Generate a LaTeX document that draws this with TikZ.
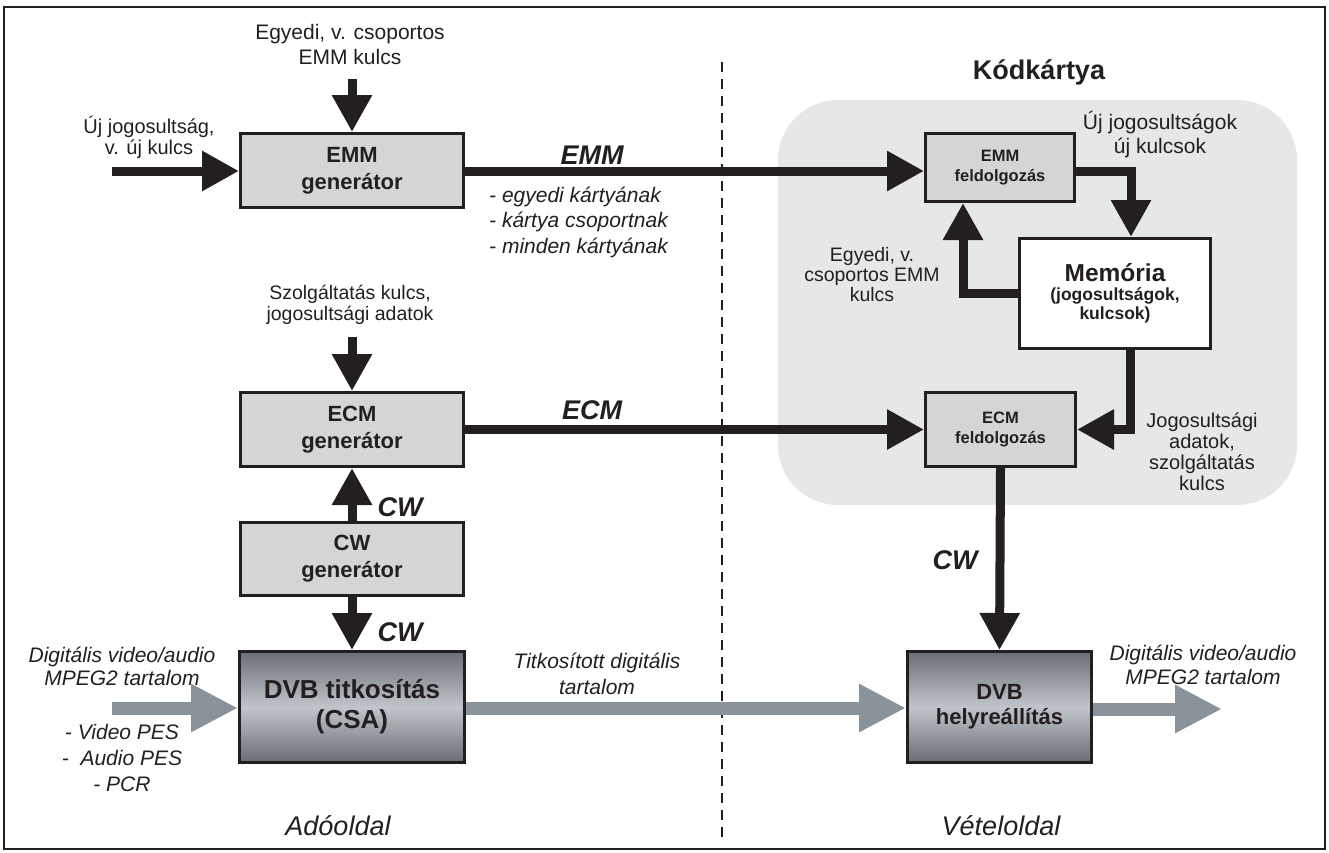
\documentclass[tikz,border=0pt]{standalone}
\usepackage{fontspec}
\setmainfont{Liberation Sans}
\usepackage{tikz}
\usetikzlibrary{arrows.meta,positioning,calc}
\definecolor{ink}{HTML}{231F20}
\definecolor{boxgrey}{HTML}{D4D5D6}
\definecolor{cardgrey}{HTML}{E6E7E8}
\definecolor{flowgrey}{HTML}{8A9399}
\definecolor{dvbdark}{HTML}{686E73}
\definecolor{dvblight}{HTML}{C0C5CB}
\tikzset{
  >=Triangle,
  keyarr/.style={-{Triangle[length=37pt,width=38pt]},draw=ink,line width=9pt,line join=miter},
  flowarr/.style={-{Triangle[length=47pt,width=45pt]},draw=flowgrey,line width=13pt},
}
\newcommand{\pxfont}[2]{\fontsize{#1}{#2}\selectfont}

\begin{document}
\begin{tikzpicture}[x=1pt,y=-1pt,
  gbox/.style={draw=ink,line width=3pt,fill=boxgrey,align=center,inner sep=0pt,
    text=ink,font=\pxfont{22}{27}\bfseries},
  dvbbox/.style={gbox,top color=dvbdark,bottom color=dvbdark,middle color=dvblight},
  lab/.style={align=center,inner sep=0pt,text=ink,font=\pxfont{21}{24}},
  ilab/.style={lab,font=\pxfont{21}{24}\itshape},
  sig/.style={inner sep=0pt,text=ink,font=\pxfont{27}{30}\bfseries\itshape},
]
  \useasboundingbox (0,0) rectangle (1329,852);

  % Kodkartya background
  \node[fill=cardgrey,rounded corners=60pt,minimum width=519pt,minimum height=405pt,
    inner sep=0pt] (card) at (1037.5,302.5) {};
  \node[inner sep=0pt,text=ink,font=\pxfont{27}{30}\bfseries] (cardtitle) at (1039,72) {Kódkártya};

  % sides
  \coordinate (divtop) at (722,62);
  \coordinate (divbot) at (722,843);
  \draw[ink,line width=1.5pt,dash pattern=on 10pt off 7pt] (divtop) -- (divbot);

  % sender
  \node[gbox,minimum width=223pt,minimum height=74pt] (emmgen) at (352,170.5) {EMM\\generátor};
  \node[gbox,minimum width=223pt,minimum height=74pt] (ecmgen) at (352,429.5) {ECM\\generátor};
  \node[gbox,minimum width=223pt,minimum height=73pt] (cwgen) at (352,559) {CW\\generátor};
  \node[dvbbox,minimum width=225pt,minimum height=111pt,font=\pxfont{26}{30}\bfseries]
    (dvbenc) at (352,707) {DVB titkosítás\\(CSA)};

  % receiver
  \node[gbox,minimum width=149pt,minimum height=68pt,font=\pxfont{16.5}{19.5}\bfseries]
    (emmproc) at (1000,167.5) {EMM\\feldolgozás};
  \node[gbox,fill=white,minimum width=191pt,minimum height=110pt,font=\pxfont{17.5}{19}\bfseries]
    (mem) at (1115,293.5) {{\pxfont{24.5}{28}Memória}\\(jogosultságok,\\kulcsok)};
  \node[gbox,minimum width=150pt,minimum height=74pt,font=\pxfont{16.5}{19.5}\bfseries]
    (ecmproc) at (1000.5,429.5) {ECM\\feldolgozás};
  \node[dvbbox,minimum width=184pt,minimum height=111pt,font=\pxfont{22}{25}\bfseries]
    (dvbdec) at (999.5,707) {DVB\\helyreállítás};

  % labels
  \node[lab,font=\pxfont{21}{25}] (emmkeytxt) at (350,44) {Egyedi, v. csoportos\\EMM kulcs};
  \node[lab,font=\pxfont{20}{21}] (newright) at (149,137) {Új jogosultság,\\v. új kulcs};
  \node[sig] (emmsig) at (592,155) {EMM};
  \node[ilab,align=left,anchor=west,font=\pxfont{21}{25.5}\itshape] (emmlist) at (489,222)
    {- egyedi kártyának\\- kártya csoportnak\\- minden kártyának};
  \node[lab,font=\pxfont{19.5}{21}] (ecmkeytxt) at (350,304.5) {Szolgáltatás kulcs,\\jogosultsági adatok};
  \node[sig] (ecmsig) at (592,410) {ECM};
  \node[sig] (cwsig1) at (400,507) {CW};
  \node[sig] (cwsig2) at (400,632) {CW};
  \node[ilab,font=\pxfont{21}{23.5}\itshape] (srcin) at (122,666.5) {Digitális video/audio\\MPEG2 tartalom};
  \node[ilab,font=\pxfont{21}{26}\itshape] (pes) at (122,758) {- Video PES\\-\ \ Audio PES\\- PCR};
  \node[ilab,font=\pxfont{21}{26}\itshape] (enctxt) at (597,673.5) {Titkosított digitális\\tartalom};
  \node[lab,font=\pxfont{21}{24}] (newkeys) at (1160,135) {Új jogosultságok\\új kulcsok};
  \node[lab,font=\pxfont{19.5}{20}] (emmkeyback) at (872,275) {Egyedi, v.\\csoportos EMM\\kulcs};
  \node[lab,font=\pxfont{20}{21}] (ecmdata) at (1202,451.5) {Jogosultsági\\adatok,\\szolgáltatás\\kulcs};
  \node[sig] (cwsig3) at (955,560) {CW};
  \node[ilab] (dstout) at (1203,665) {Digitális video/audio\\MPEG2 tartalom};
  \node[ilab,font=\pxfont{27}{30}\itshape] (txside) at (338,826) {Adóoldal};
  \node[ilab,font=\pxfont{27}{30}\itshape] (rxside) at (1001,826) {Vételoldal};

  % free ends
  \coordinate (emmkey) at (352,79);
  \coordinate (newin) at (112,171);
  \coordinate (ecmkey) at (352,337);
  \coordinate (srcstart) at (112,708);
  \coordinate (dstend) at (1222,709);

  % key paths
  \draw[keyarr] (emmkey) -- (emmgen.north);
  \draw[keyarr] (newin) -- (newin -| emmgen.west);
  \draw[keyarr] (emmgen.east |- newin) -- (newin -| emmproc.west);
  \draw[keyarr] (emmproc.east |- newin) -| ([xshift=16pt]mem.north);
  \draw[keyarr] (mem.west) -| ([xshift=-37pt]emmproc.south);
  \draw[keyarr] ([xshift=15pt]mem.south) |- (ecmproc.east);
  \draw[keyarr] (ecmkey) -- (ecmgen.north);
  \draw[keyarr] (ecmgen.east) -- (ecmproc.west);
  \draw[keyarr] (cwgen.north) -- (ecmgen.south);
  \draw[keyarr] (cwgen.south) -- (dvbenc.north);
  \draw[keyarr] (ecmproc.south) -- (dvbdec.north);

  % content flow
  \draw[flowarr] (srcstart) -- (srcstart -| dvbenc.west);
  \draw[flowarr] (dvbenc.east |- srcstart) -- (srcstart -| dvbdec.west);
  \draw[flowarr] (dvbdec.east |- dstend) -- (dstend);

  % frame
  \draw[ink,line width=1.2pt] (4,7) rectangle (1325,849);
\end{tikzpicture}
\end{document}
